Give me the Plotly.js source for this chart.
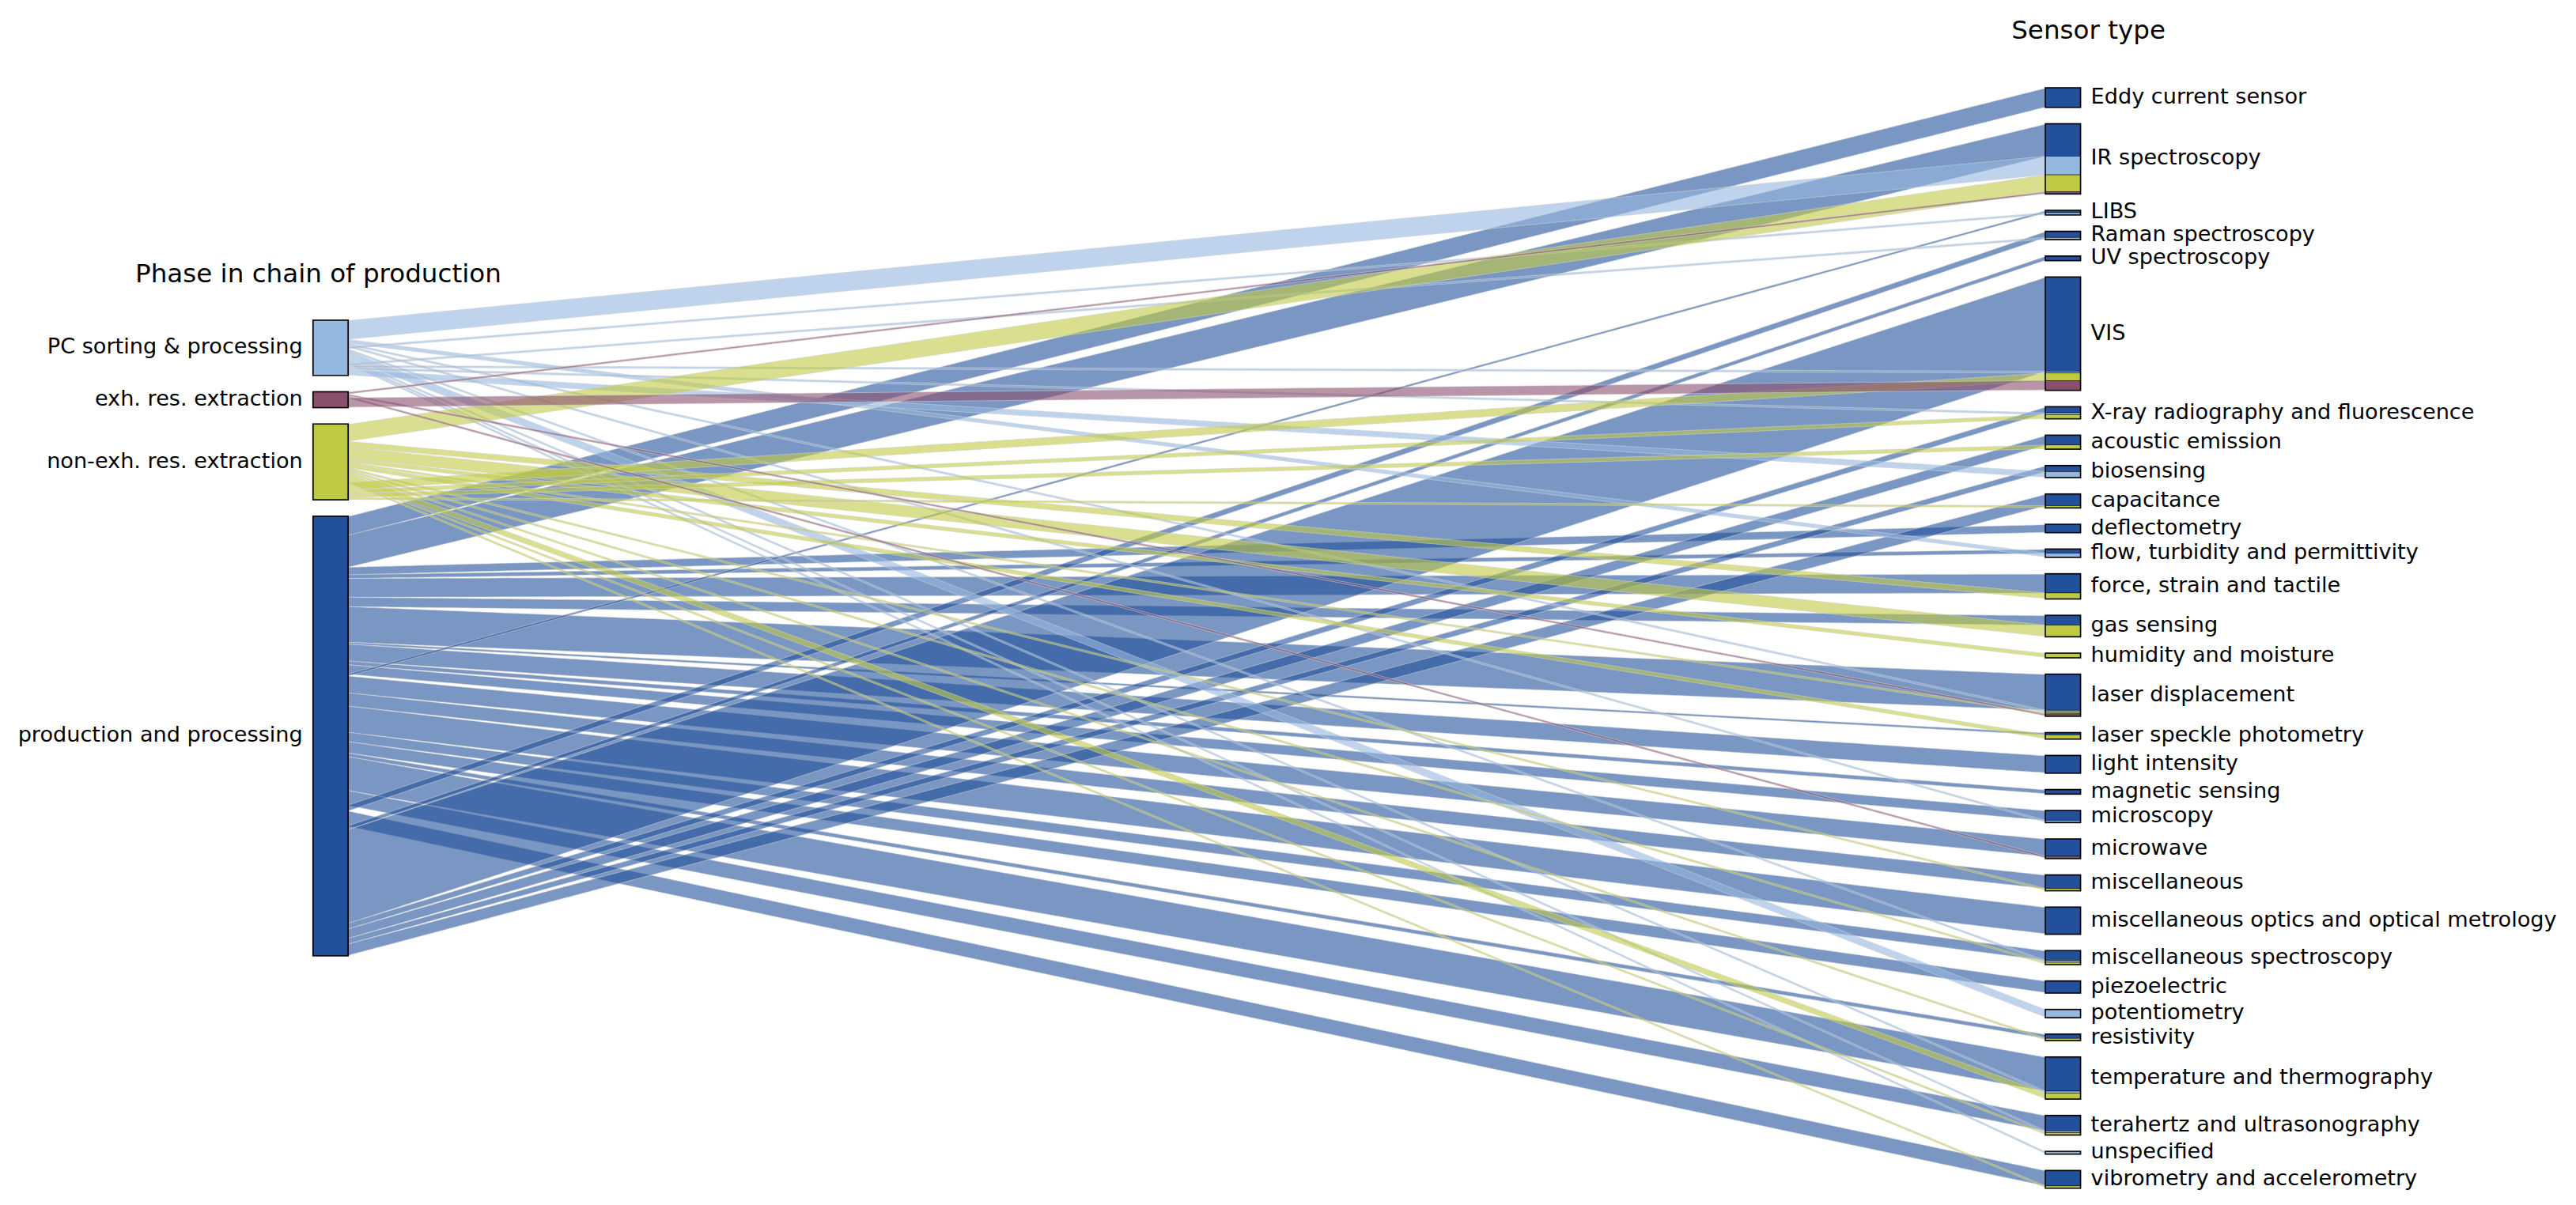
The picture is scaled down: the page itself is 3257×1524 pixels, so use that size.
<!DOCTYPE html>
<html>
<head>
<meta charset="utf-8">
<script src="https://cdn.plot.ly/plotly-3.0.1.min.js"></script>
<style>
  html, body { margin: 0; padding: 0; background: #ffffff; }
  body { width: 3257px; height: 1524px; overflow: hidden; }
  /* drawn at the original figure size, then blown up to the 3257x1524 window */
  #sensor_parcats { width: 1200px; height: 560px; transform-origin: 0 0; transform: scale(2.71417, 2.72143); }
</style>
</head>
<body>
<div id="sensor_parcats"></div>
<script>
//////////////////////////////////////////////////////////////////////////////////////
// Phase in chain of production -> Sensor type (number of publications)

var phases = ['PC sorting & processing',
  'exh. res. extraction',
  'non-exh. res. extraction',
  'production and processing'];

var sensors = ['Eddy current sensor',
  'IR spectroscopy',
  'LIBS',
  'Raman spectroscopy',
  'UV spectroscopy',
  'VIS',
  'X-ray radiography and fluorescence',
  'acoustic emission',
  'biosensing',
  'capacitance',
  'deflectometry',
  'flow, turbidity and permittivity',
  'force, strain and tactile',
  'gas sensing',
  'humidity and moisture',
  'laser displacement',
  'laser speckle photometry',
  'light intensity',
  'magnetic sensing',
  'microscopy',
  'microwave',
  'miscellaneous',
  'miscellaneous optics and optical metrology',
  'miscellaneous spectroscopy',
  'piezoelectric',
  'potentiometry',
  'resistivity',
  'temperature and thermography',
  'terahertz and ultrasonography',
  'unspecified',
  'vibrometry and accelerometry'];

// counts per sensor type (same order as sensors) for each phase
var pc_counts      = [0, 10, 1, 1, 0, 1, 1, 0, 3, 0, 0, 2, 0, 0, 0, 1, 0, 0, 0, 1, 0, 0, 0, 1, 0, 4, 0, 1, 1, 1, 0];
var exh_counts     = [0, 1, 0, 0, 0, 5, 0, 0, 0, 0, 0, 0, 0, 0, 0, 1, 0, 0, 0, 0, 1, 0, 0, 0, 0, 0, 0, 0, 0, 0, 0];
var non_exh_counts = [0, 9, 0, 0, 0, 4, 2, 2, 0, 1, 0, 0, 3, 6, 2, 1, 2, 0, 0, 0, 0, 1, 0, 1, 0, 0, 1, 3, 1, 0, 1];
var prod_counts    = [10, 17, 1, 3, 2, 50, 3, 5, 3, 6, 4, 2, 10, 5, 0, 19, 1, 9, 2, 5, 9, 7, 14, 5, 6, 0, 2, 18, 8, 0, 8];

// colour code of each phase (0 = production, 1 = PC, 2 = non-exh., 3 = exh.)
var phase_color_code = [1, 3, 2, 0];
var phase_colors = ['#22509a', '#95b8e0', '#bfc942', '#8b4f6e'];

var dim_titles = ['Phase in chain of production', 'Sensor type'];

var counts_by_phase = [pc_counts, exh_counts, non_exh_counts, prod_counts];

// one row per (phase, sensor) combination
var phase_col = [];
var sensor_col = [];
var count_col = [];
var color_col = [];

counts_by_phase.forEach(function(counts, p) {
  counts.forEach(function(n, s) {
    if (n > 0) {
      phase_col.push(phases[p]);
      sensor_col.push(sensors[s]);
      count_col.push(n);
      color_col.push(phase_color_code[p]);
    }
  });
});

// console.log(count_col.reduce(function(a, b) { return a + b; }, 0));

var scale = phase_colors.map(function(c, i) {
  return [i / (phase_colors.length - 1), c];
});

var trace = {
  type: 'parcats',
  dimensions: [
    { label: '', values: phase_col,
      categoryorder: 'array', categoryarray: phases },
    { label: '', values: sensor_col,
      categoryorder: 'array', categoryarray: sensors }
  ],
  counts: count_col,
  line: {
    color: color_col,
    colorscale: scale,
    cmin: 0,
    cmax: 3,
    showscale: false,
    shape: 'linear'
  },
  labelfont: { family: 'DejaVu Sans', size: 12, color: '#000000' },
  tickfont: { family: 'DejaVu Sans', size: 10, color: '#000000' },
  hoverinfo: 'none'
};

// column headers
var header_font = { family: 'DejaVu Sans', size: 12, color: '#000000' };

var layout = {
  width: 1200,
  height: 560,
  font: { family: 'DejaVu Sans', color: '#000000' },
  paper_bgcolor: '#ffffff',
  margin: { l: 106, r: 191, t: 41, b: 8 },
  annotations: [
    { text: dim_titles[0], xref: 'paper', yref: 'paper', x: 0.047, y: 0.814,
      xanchor: 'center', yanchor: 'bottom', showarrow: false, font: header_font },
    { text: dim_titles[1], xref: 'paper', yref: 'paper', x: 0.96, y: 1.036,
      xanchor: 'center', yanchor: 'bottom', showarrow: false, font: header_font }
  ]
};

//plot the parallel categories
Plotly.newPlot('sensor_parcats', [trace], layout, { displayModeBar: false });
</script>
</body>
</html>
